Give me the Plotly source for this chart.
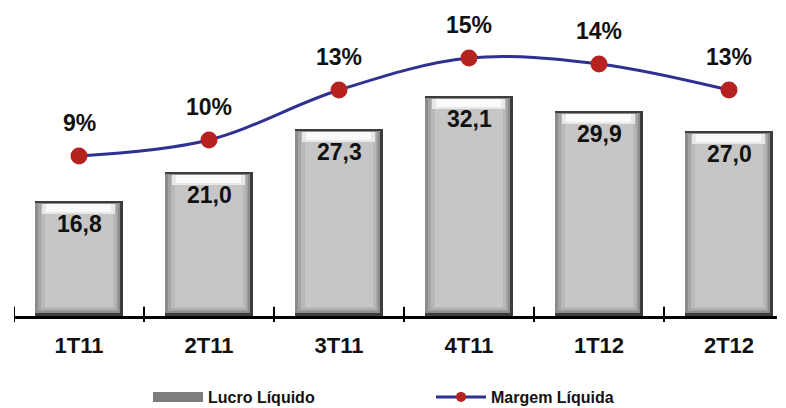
import plotly.graph_objects as go

categories = ["1T11", "2T11", "3T11", "4T11", "1T12", "2T12"]
lucro = [16.8, 21.0, 27.3, 32.1, 29.9, 27.0]
lucro_labels = ["16,8", "21,0", "27,3", "32,1", "29,9", "27,0"]
margem = [8.94, 9.94, 13.06, 15.06, 14.69, 13.06]
margem_labels = ["9%", "10%", "13%", "15%", "14%", "13%"]

FONT = "Liberation Sans, Arial, sans-serif"
OFF = 8  # page body margin
W, H = 786 - OFF, 408 - OFF
ML, MR, MT, MB = 14 - OFF, 9, 10 - OFF, 92
plot_w = W - ML - MR
plot_h = H - MT - MB
x_range = [-0.5, -0.5 + plot_w / 130.0]
ux = 1 / 130.0
y_max = 44.6
uy = y_max / plot_h

LINE_COLOR = "#2e3192"
DOT_COLOR = "#b5221f"

fig = go.Figure()

# bevelled bars as stacked layers (left, right, top, bottom inset in px)
layers = [
    (0, 0, 0, 0, "#3c3c3c", None),
    (0, 3, 2, 3, "#8c8c8c", None),
    (3, 5, 3, 5, "#a4a4a4", None),
    (6, 7, 4, 7, "#b8b8b8", None),
    (7, 8, 3, None, "#e8e8e8", 10),
    (11, 12, 3, None, "#fafafa", 8),
    (10, 10, 13, 9, "#c6c6c6", None),
]
half = 44
for li, ri, ti, bi, col, hl in layers:
    if bi is None:
        base = [v - (ti + hl) * uy for v in lucro]
        hgt = [hl * uy for v in lucro]
    else:
        base = [bi * uy for v in lucro]
        hgt = [v - (ti + bi) * uy for v in lucro]
    fig.add_trace(go.Bar(
        x=categories, y=hgt, base=base,
        width=(2 * half - li - ri) * ux, offset=(-half + li) * ux,
        marker=dict(color=col, line=dict(width=0)),
        showlegend=False, hoverinfo="skip",
    ))

# legend-only entries
fig.add_trace(go.Scatter(
    x=[None], y=[None], mode="lines", name="<b>Lucro Líquido</b>",
    line=dict(color="#7d7d7d", width=10),
))
fig.add_trace(go.Scatter(
    x=[None], y=[None], mode="lines+markers", name="<b>Margem Líquida</b>",
    line=dict(color=LINE_COLOR, width=3),
    marker=dict(color=DOT_COLOR, size=10),
))

fig.add_trace(go.Scatter(
    x=categories, y=margem, yaxis="y2", mode="lines+markers",
    name="Margem Líquida", showlegend=False,
    line=dict(color=LINE_COLOR, width=3, shape="spline", smoothing=1.0),
    marker=dict(color=DOT_COLOR, size=17),
))

annotations = []
for c, v, t in zip(categories, lucro, lucro_labels):
    annotations.append(dict(x=c, y=v, xref="x", yref="y", text=f"<b>{t}</b>",
                            showarrow=False, yshift=-23,
                            font=dict(family=FONT, size=23, color="#111111")))
for c, v, t in zip(categories, margem, margem_labels):
    annotations.append(dict(x=c, y=v, xref="x", yref="y2", text=f"<b>{t}</b>",
                            showarrow=False, yshift=33,
                            font=dict(family=FONT, size=23, color="#111111")))

shapes = []
for i in range(len(categories)):
    shapes.append(dict(type="line", xref="x", yref="paper",
                       x0=i - 0.5, x1=i - 0.5, y0=-0.02, y1=0.03,
                       line=dict(color="black", width=2)))

y2_lo = (299 - 316) / 16.0
y2_hi = (299 - 10) / 16.0

fig.update_layout(
    width=W, height=H,
    margin=dict(l=ML, r=MR, t=MT, b=MB, autoexpand=False),
    paper_bgcolor="white", plot_bgcolor="white",
    barmode="overlay", bargap=0,
    xaxis=dict(range=x_range, showline=True, linecolor="black", linewidth=3,
               ticks="", showgrid=False, zeroline=False, automargin=False,
               tickfont=dict(family=FONT, size=22, color="#111111"),
               ticklabelstandoff=8,
               tickvals=categories, ticktext=[f"<b>{c}</b>" for c in categories]),
    yaxis=dict(range=[0, y_max], visible=False, showgrid=False, zeroline=False),
    yaxis2=dict(range=[y2_lo, y2_hi], overlaying="y", visible=False,
                showgrid=False, zeroline=False),
    legend=dict(orientation="h", xref="container", yref="container",
                x=(148 - OFF) / W, xanchor="left",
                y=1 - (397 - OFF) / H, yanchor="middle", itemwidth=50,
                entrywidth=218, entrywidthmode="pixels",
                font=dict(family=FONT, size=16, color="#111111"),
                bgcolor="rgba(0,0,0,0)"),
    annotations=annotations, shapes=shapes,
)

fig.write_html("out.html")
